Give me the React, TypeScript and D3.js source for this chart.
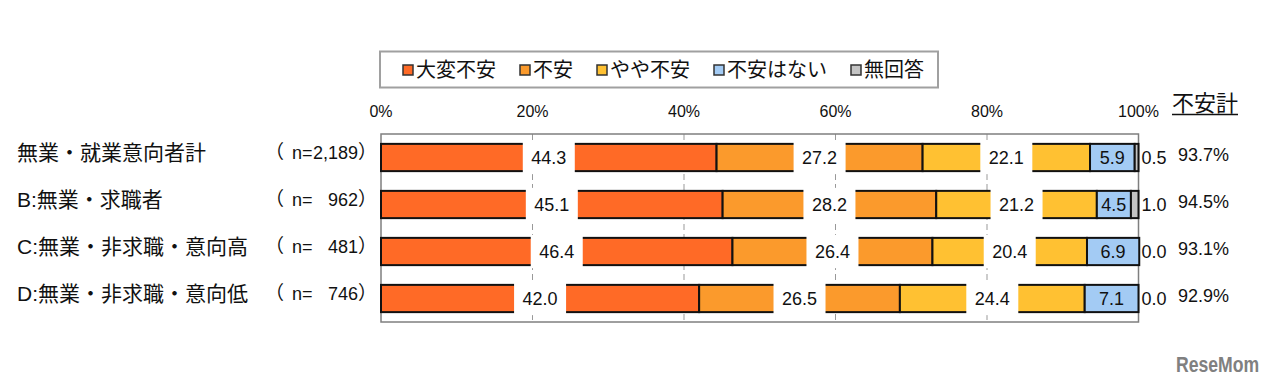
import React from 'react';
import * as d3 from 'd3';

// categories (rows) and sample sizes
const categories = ['無業・就業意向者計', 'B:無業・求職者', 'C:無業・非求職・意向高', 'D:無業・非求職・意向低'];
const sampleSizes = ['2,189', '962', '481', '746'];

// series
const seriesNames = ['大変不安', '不安', 'やや不安', '不安はない', '無回答'];
const veryAnxious = [44.3, 45.1, 46.4, 42.0];
const anxious = [27.2, 28.2, 26.4, 26.5];
const somewhatAnxious = [22.1, 21.2, 20.4, 24.4];
const notAnxious = [5.9, 4.5, 6.9, 7.1];
const noAnswer = [0.5, 1.0, 0.0, 0.0];
const anxietyTotal = [93.7, 94.5, 93.1, 92.9];

const tickValues = [0, 20, 40, 60, 80, 100];

const colors = ['#ff6a26', '#fb9a2c', '#ffc132', '#a3cbf4', '#c4c4c4'];

const JP = "'Liberation Sans', 'Noto Sans CJK JP', sans-serif";
const NUM = "'Liberation Sans', Arial, sans-serif";

const App = () => {
  const width = 1280;
  const height = 391;

  const x = d3.scaleLinear().domain([0, 100]).range([381, 1138.5]);
  const y = d3.scaleBand<string>().domain(categories).range([134, 322]).paddingInner(0.42).paddingOuter(0.21);
  const bw = y.bandwidth();

  const values = [veryAnxious, anxious, somewhatAnxious, notAnxious, noAnswer];
  const rows = categories.map((c, i) => {
    const r: any = { cat: c };
    seriesNames.forEach((s, k) => { r[s] = values[k][i]; });
    return r;
  });
  const stacked = d3.stack<any>().keys(seriesNames)(rows);

  // legend layout
  const legendStart = 403;
  const charW = 20;
  let lx = legendStart;
  const legendItems = seriesNames.map((s, k) => {
    const item = { name: s, x: lx, color: colors[k] };
    lx += 13 + s.length * charW + 24;
    return item;
  });

  const plotTop = y.range()[0];
  const plotBottom = y.range()[1];

  return (
    <svg width={width} height={height} style={{ position: 'absolute', left: 0, top: 0, background: '#fff' }}>
      {/* legend */}
      <rect x={380} y={51.5} width={558} height={36} fill="#fff" stroke="#a0a0a0" strokeWidth={2} />
      {legendItems.map((d) => (
        <g key={d.name}>
          <rect x={d.x} y={65} width={10} height={10} fill={d.color} stroke="#333" strokeWidth={1.5} />
          <text x={d.x + 13} y={70} dominantBaseline="central" fontFamily={JP} fontSize={20} fill="#111">{d.name}</text>
        </g>
      ))}

      {/* axis tick labels */}
      {tickValues.map((t) => (
        <text key={t} x={x(t)} y={117} textAnchor="middle" fontFamily={NUM} fontSize={16} fill="#111">{t}%</text>
      ))}
      <text x={1172} y={111} fontFamily={JP} fontSize={22} fill="#111">不安計</text>
      <line x1={1172} x2={1238} y1={114.5} y2={114.5} stroke="#111" strokeWidth={1.5} />

      {/* gridlines */}
      {tickValues.filter((t) => t > 0 && t < 100).map((t) => (
        <line key={t} x1={x(t)} x2={x(t)} y1={plotTop} y2={plotBottom} stroke="#999" strokeWidth={1} strokeDasharray="6,4" />
      ))}

      {/* plot frame */}
      <rect x={x(0)} y={plotTop} width={x(100) - x(0)} height={plotBottom - plotTop} fill="none" stroke="#7f7f7f" strokeWidth={1.5} />

      {/* bars */}
      {stacked.map((s, k) => (
        <g key={s.key}>
          {s.map((d: any, i: number) => {
            const w = x(d[1]) - x(d[0]);
            if (w <= 0) return null;
            return (
              <rect key={i} x={x(d[0])} y={y(categories[i])} width={w} height={bw}
                fill={colors[k]} stroke="#111" strokeWidth={2} />
            );
          })}
        </g>
      ))}

      {/* data labels */}
      {stacked.map((s, k) => (
        <g key={'lab' + s.key}>
          {s.map((d: any, i: number) => {
            const v = values[k][i];
            const cy = (y(categories[i]) as number) + bw / 2;
            const label = v.toFixed(1);
            if (k <= 2) {
              const mx = x((d[0] + d[1]) / 2);
              return (
                <g key={i}>
                  <rect x={mx - 26} y={cy - bw / 2 - 3} width={52} height={bw + 6} fill="#fff" />
                  <text x={mx} y={cy} textAnchor="middle" dominantBaseline="central" fontFamily={NUM} fontSize={18} fill="#111">{label}</text>
                </g>
              );
            }
            if (k === 3) {
              const mx = x((d[0] + d[1]) / 2);
              return (
                <text key={i} x={mx} y={cy} textAnchor="middle" dominantBaseline="central" fontFamily={NUM} fontSize={18} fill="#111">{label}</text>
              );
            }
            return (
              <text key={i} x={x(100) + 3} y={cy} dominantBaseline="central" fontFamily={NUM} fontSize={18} fill="#111">{label}</text>
            );
          })}
        </g>
      ))}

      {/* totals */}
      {anxietyTotal.map((v, i) => (
        <text key={i} x={1178} y={(y(categories[i]) as number) + bw / 2 - 3} dominantBaseline="central" fontFamily={NUM} fontSize={18} fill="#111">{v.toFixed(1)}%</text>
      ))}

      {/* row labels */}
      {categories.map((c, i) => {
        const cy = (y(c) as number) + bw / 2 - 5;
        return (
          <g key={c}>
            <text x={17} y={cy} dominantBaseline="central" fontFamily={JP} fontSize={21} fill="#111">{c}</text>
            <text x={265} y={cy} dominantBaseline="central" fontFamily={JP} fontSize={19} fill="#111">（</text>
            <text x={292} y={cy} dominantBaseline="central" fontFamily={NUM} fontSize={18} fill="#111">n=</text>
            <text x={358} y={cy} textAnchor="end" dominantBaseline="central" fontFamily={NUM} fontSize={18} fill="#111">{sampleSizes[i]}</text>
            <text x={358} y={cy} dominantBaseline="central" fontFamily={JP} fontSize={19} fill="#111">）</text>
          </g>
        );
      })}

      {/* watermark */}
      <text transform="translate(1176,372) scale(0.8,1)" fontFamily={NUM} fontWeight="bold" fontSize={22} fill="#808080">ReseMom</text>
    </svg>
  );
};

export default App;
